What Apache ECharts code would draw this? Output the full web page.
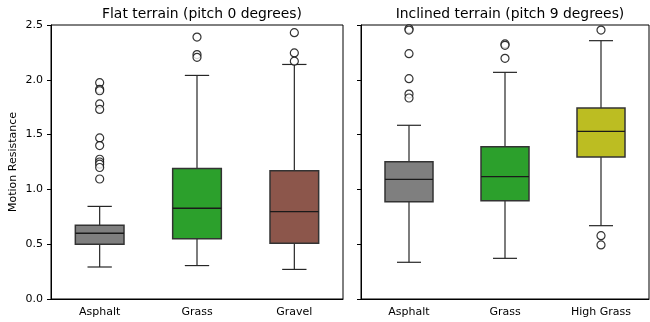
<!DOCTYPE html>
<html><head><meta charset="utf-8">
<script src="https://cdn.jsdelivr.net/npm/echarts@6/dist/echarts.min.js"></script>
<style>html,body{margin:0;padding:0;background:#fff}#c{width:650px;height:322px}</style>
</head><body><div id="c"></div>
<script>
const yTicks = [0, 0.5, 1.0, 1.5, 2.0, 2.5];
const titles = ['Flat terrain (pitch 0 degrees)', 'Inclined terrain (pitch 9 degrees)'];
const yLabel = 'Motion Resistance';

const flatCats = ['Asphalt', 'Grass', 'Gravel'];
// [lower whisker, Q1, median, Q3, upper whisker]
const flatBoxes = [
  [0.292, 0.500, 0.600, 0.672, 0.845],
  [0.305, 0.550, 0.828, 1.190, 2.040],
  [0.270, 0.508, 0.797, 1.170, 2.140]
];
const flatOutliers = [
  [1.974, 1.913, 1.900, 1.780, 1.730, 1.470, 1.400, 1.275, 1.250, 1.230, 1.200, 1.095],
  [2.390, 2.230, 2.205],
  [2.430, 2.245, 2.170]
];
const flatColors = ['#7f7f7f', '#2ca02c', '#8c564b'];

const inclCats = ['Asphalt', 'Grass', 'High Grass'];
const inclBoxes = [
  [0.335, 0.888, 1.092, 1.253, 1.585],
  [0.371, 0.897, 1.116, 1.390, 2.068],
  [0.669, 1.296, 1.530, 1.743, 2.357]
];
const inclOutliers = [
  [2.466, 2.454, 2.238, 2.010, 1.870, 1.834],
  [2.327, 2.315, 2.196],
  [2.454, 0.578, 0.493]
];
const inclColors = ['#7f7f7f', '#2ca02c', '#bcbd22'];

const chart = echarts.init(document.getElementById('c'));
const FONT = 'DejaVu Sans';
const lineCol = '#262626';

function renderBox(params, api) {
  const x = api.value(0);
  const lo = api.value(1), q1 = api.value(2), med = api.value(3), q3 = api.value(4), hi = api.value(5);
  const color = api.value(6);
  const band = api.size([1, 0])[0];
  const bw = band * 0.5, cw = band * 0.25;
  const pLo = api.coord([x, lo]), pQ1 = api.coord([x, q1]), pMed = api.coord([x, med]);
  const pQ3 = api.coord([x, q3]), pHi = api.coord([x, hi]);
  const cx = pMed[0];
  const ls = {stroke: lineCol, lineWidth: 1.2};
  return {
    type: 'group',
    children: [
      {type: 'line', shape: {x1: cx, y1: pQ1[1], x2: cx, y2: pLo[1]}, style: ls},
      {type: 'line', shape: {x1: cx, y1: pQ3[1], x2: cx, y2: pHi[1]}, style: ls},
      {type: 'line', shape: {x1: cx - cw / 2, y1: pLo[1], x2: cx + cw / 2, y2: pLo[1]}, style: ls},
      {type: 'line', shape: {x1: cx - cw / 2, y1: pHi[1], x2: cx + cw / 2, y2: pHi[1]}, style: ls},
      {type: 'rect', shape: {x: cx - bw / 2, y: pQ3[1], width: bw, height: pQ1[1] - pQ3[1]},
        style: {fill: color, stroke: '#333', lineWidth: 1.5}},
      {type: 'line', shape: {x1: cx - bw / 2, y1: pMed[1], x2: cx + bw / 2, y2: pMed[1]},
        style: {stroke: '#1a1a1a', lineWidth: 1.3}}
    ]
  };
}

function boxData(boxes, colors) {
  return boxes.map((b, i) => [i, b[0], b[1], b[2], b[3], b[4], colors[i]]);
}
function outData(outs) {
  const d = [];
  outs.forEach((arr, i) => arr.forEach(v => d.push([i, v])));
  return d;
}

function xAxis(idx, cats) {
  return {
    type: 'category', gridIndex: idx, data: cats,
    axisLine: {lineStyle: {color: '#000', width: 1}},
    axisTick: {alignWithLabel: true, length: 4, lineStyle: {color: '#000'}},
    axisLabel: {color: '#000', fontFamily: FONT, fontSize: 11, margin: 8},
    splitLine: {show: false}
  };
}
function yAxis(idx, showLabels) {
  return {
    type: 'value', gridIndex: idx, min: 0, max: 2.5, interval: 0.5,
    axisLine: {show: true, lineStyle: {color: '#000', width: 1}},
    axisTick: {show: true, length: 4, lineStyle: {color: '#000'}},
    axisLabel: {show: showLabels, color: '#000', fontFamily: FONT, fontSize: 11, margin: 8,
      formatter: v => v.toFixed(1)},
    splitLine: {show: false},
    name: showLabels ? yLabel : '', nameLocation: 'middle', nameGap: 32,
    nameTextStyle: {color: '#000', fontFamily: FONT, fontSize: 11}
  };
}

const scatterStyle = {
  type: 'scatter', symbol: 'circle', symbolSize: 8,
  itemStyle: {color: '#fff', borderColor: '#000', borderWidth: 1.2},
  silent: true, z: 5
};

chart.setOption({
  animation: false,
  backgroundColor: '#fff',
  title: [
    {text: titles[0], left: 197, top: 2, textAlign: 'center',
      textStyle: {fontFamily: FONT, fontSize: 13.9, fontWeight: 'normal', color: '#000'}},
    {text: titles[1], left: 505, top: 2, textAlign: 'center',
      textStyle: {fontFamily: FONT, fontSize: 13.9, fontWeight: 'normal', color: '#000'}}
  ],
  grid: [
    {left: 51, top: 25, width: 292, height: 274, show: true, borderColor: '#000', borderWidth: 1, backgroundColor: 'transparent'},
    {left: 361, top: 25, width: 288, height: 274, show: true, borderColor: '#000', borderWidth: 1, backgroundColor: 'transparent'}
  ],
  xAxis: [xAxis(0, flatCats), xAxis(1, inclCats)],
  yAxis: [yAxis(0, true), yAxis(1, false)],
  series: [
    {type: 'custom', xAxisIndex: 0, yAxisIndex: 0, renderItem: renderBox, data: boxData(flatBoxes, flatColors),
      encode: {x: 0, y: [1, 2, 3, 4, 5]}},
    {type: 'custom', xAxisIndex: 1, yAxisIndex: 1, renderItem: renderBox, data: boxData(inclBoxes, inclColors),
      encode: {x: 0, y: [1, 2, 3, 4, 5]}},
    Object.assign({}, scatterStyle, {xAxisIndex: 0, yAxisIndex: 0, data: outData(flatOutliers)}),
    Object.assign({}, scatterStyle, {xAxisIndex: 1, yAxisIndex: 1, data: outData(inclOutliers)})
  ]
});
</script></body></html>
